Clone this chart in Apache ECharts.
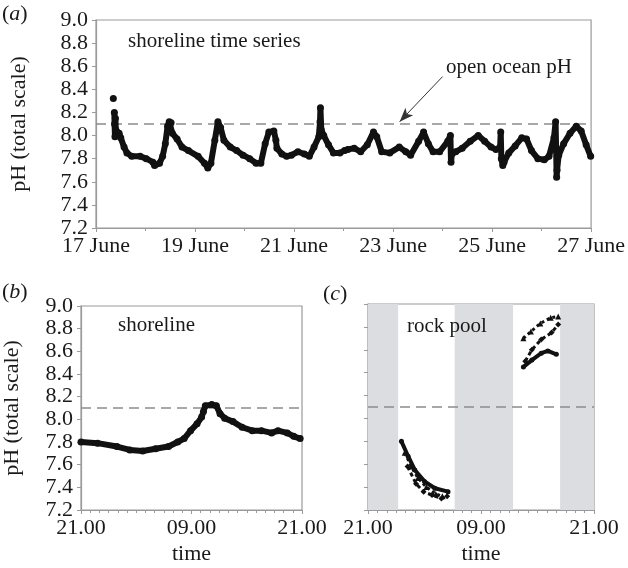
<!DOCTYPE html>
<html>
<head>
<meta charset="utf-8">
<script src="https://cdn.jsdelivr.net/npm/echarts@6/dist/echarts.min.js"></script>
<style>
html,body{margin:0;padding:0;background:#fff;}
#main{width:628px;height:568px;}
</style>
</head>
<body>
<div id="main"></div>
<script>
// ---------- DATA ----------
// Panel (a): hours since 17 June 00:00, pH (null = gap)
var shoreHours = [8.4, 8.5, 8.9, 9.0, 9.2, 9.4, 9.6, 11.2, 12.0, 13.6, 15.0, 17.3, 21.4, 24.4, 27.6, 28.4, 30.8, 32.3, 33.6, 34.7, 35.5, 36.4, 37.0, 39.3, 41.7, 44.8, 49.5, 52.6, 54.2, 55.7, 57.6, 59.1, 60.4, 62.0, 65.1, 68.2, 71.3, 74.5, 77.6, 79.9, 82.0, 83.8, 86.2, 87.2, 87.7, 90.1, 92.4, 94.7, 97.9, 101.0, 103.4, 105.7, 108.0, 108.6, 108.8, 109.2, 110.4, 112.7, 115.1, 118.2, 120.5, 122.1, 125.2, 128.3, 131.5, 134.5, 136.1, 138.5, 142.4, 147.0, 150.2, 152.5, 156.4, 158.8, 161.1, 163.4, 166.6, 170.5, 171.8, 172.1, 172.5, 174.4, 177.5, 181.4, 185.3, 188.4, 191.5, 193.9, 195.9, 196.2, 196.5, 197.2, 197.8, 200.1, 203.2, 206.4, 208.7, 211.1, 214.2, 217.3, 219.6, 222.0, 222.8, 223.3, 223.5, 224.3, 226.7, 229.8, 232.8, 235.2, 237.6, 239.8];
var shorePH    = [8.32, null, 8.20, 8.10, 7.99, 8.15, 8.05, 8.02, 7.98, 7.90, 7.85, 7.82, 7.82, 7.80, 7.77, 7.74, 7.76, 7.82, 7.93, 8.08, 8.12, 8.11, 8.02, 7.97, 7.90, 7.87, 7.82, 7.76, 7.72, 7.76, 7.96, 8.12, 8.07, 7.96, 7.90, 7.87, 7.83, 7.80, 7.76, 7.76, 7.93, 8.03, 8.04, 7.96, 7.89, 7.84, 7.82, 7.83, 7.86, 7.84, 7.82, 7.90, 7.99, 8.12, 8.24, 8.05, 8.00, 7.92, 7.85, 7.85, 7.87, 7.88, 7.89, 7.86, 7.92, 8.03, 7.99, 7.86, 7.85, 7.90, 7.86, 7.83, 7.95, 8.03, 7.93, 7.86, 7.86, 7.95, 8.00, 7.77, 7.84, 7.86, 7.89, 7.95, 8.00, 7.95, 7.90, 7.88, 7.90, 8.03, 7.80, 7.74, 7.77, 7.85, 7.91, 7.98, 7.97, 7.87, 7.80, 7.79, 7.82, 7.98, 8.12, 7.64, 7.70, 7.83, 7.93, 8.02, 8.08, 8.04, 7.92, 7.82];
var dayLabels = ['17 June', '19 June', '21 June', '23 June', '25 June', '27 June'];

// Panel (b): hours since 21.00, pH
var shoreDayHours = [0.0, 1.8, 3.9, 5.3, 6.7, 8.1, 9.5, 10.5, 11.2, 11.9, 12.6, 13.1, 13.3, 13.5, 14.2, 14.7, 15.1, 15.6, 16.5, 17.5, 18.6, 19.6, 20.7, 21.4, 22.4, 23.1, 23.8];
var shoreDayPH    = [7.80, 7.79, 7.76, 7.73, 7.72, 7.74, 7.76, 7.80, 7.83, 7.90, 7.96, 8.02, 8.07, 8.12, 8.13, 8.12, 8.05, 8.01, 7.98, 7.93, 7.90, 7.90, 7.88, 7.90, 7.88, 7.85, 7.83];
var timeLabels = ['21.00', '09.00', '21.00'];

// Panel (c): rock pool, hours since 21.00 (null = gap between night and day runs)
var poolHours1 = [3.55, 4.26, 4.97, 6.0, 7.1, 8.5, null, 16.5, 17.4, 18.4, 19.1, 20.0];
var poolPH1    = [7.80, 7.67, 7.55, 7.45, 7.39, 7.36, null, 8.45, 8.51, 8.57, 8.59, 8.56];
var poolHours2 = [3.9, 4.6, 5.3, 6.2, 7.2, 7.9, null, 16.5, 17.3, 18.3, 19.4, 20.2];
var poolPH2    = [7.70, 7.58, 7.48, 7.40, 7.34, 7.32, null, 8.70, 8.76, 8.83, 8.88, 8.89];
var poolHours3 = [4.2, 5.1, 5.9, 6.8, 7.8, 8.4, null, 16.7, 17.4, 18.4, 19.5, 20.2];
var poolPH3    = [7.58, 7.43, 7.36, 7.33, 7.30, 7.32, null, 8.50, 8.60, 8.69, 8.75, 8.82];
var greyBands = [[0, 3.2], [9.2, 15.4], [20.4, 24]];

var openOceanPH = 8.1;
var yTicksMin = 7.2, yTicksMax = 9.0, yStep = 0.2;

// ---------- CHART ----------
function pairs(xs, ys) {
  return xs.map(function (x, i) { return (ys[i] === null) ? [x === null ? '-' : x, '-'] : [x, ys[i]]; });
}
var FONT = '"Liberation Serif", "DejaVu Serif", serif';
var AX = '#9a9a9a';
var TXT = '#1a1a1a';
var FS = 22;

function yAxisDef(gi, showLabels, name, gap) {
  return {
    type: 'value', gridIndex: gi, min: yTicksMin, max: yTicksMax, interval: yStep,
    axisLine: { show: true, lineStyle: { color: AX, width: 1.2 } },
    axisTick: { show: true, length: 4, lineStyle: { color: AX } },
    splitLine: { show: false },
    axisLabel: { show: showLabels, margin: 8, color: TXT, fontFamily: FONT, fontSize: FS,
      formatter: function (v) { return v.toFixed(1); } },
    name: name, nameLocation: 'middle', nameGap: gap, nameRotate: 90,
    nameTextStyle: { color: TXT, fontFamily: FONT, fontSize: FS }
  };
}
function xAxisDef(gi, max, interval, labels, minorSplit, name) {
  return {
    type: 'value', gridIndex: gi, min: 0, max: max, interval: interval,
    axisLine: { show: true, lineStyle: { color: AX, width: 1.2 } },
    axisTick: { show: true, length: 4, lineStyle: { color: AX } },
    minorTick: { show: true, splitNumber: minorSplit, length: 3, lineStyle: { color: AX } },
    splitLine: { show: false },
    axisLabel: { margin: 7, color: TXT, fontFamily: FONT, fontSize: FS, showMaxLabel: true, showMinLabel: true,
      formatter: function (v) { return labels[Math.round(v / interval)]; } },
    name: name, nameLocation: 'middle', nameGap: 33,
    nameTextStyle: { color: TXT, fontFamily: FONT, fontSize: FS }
  };
}
var dashLine = {
  silent: true, symbol: 'none', label: { show: false },
  lineStyle: { color: '#8c8c8c', type: [10, 6], width: 1.5 },
  data: [{ yAxis: openOceanPH }]
};
function poolSeries(xs, ys, sym, size, lw, ltype) {
  return {
    type: 'line', xAxisIndex: 2, yAxisIndex: 2, data: pairs(xs, ys),
    symbol: sym, symbolSize: size, showSymbol: true, connectNulls: false,
    itemStyle: { color: '#111' }, lineStyle: { color: '#111', width: lw, type: ltype }, z: 5
  };
}
function panelLabel(letter, left, top) {
  return { type: 'text', left: left, top: top, z: 100,
    style: { text: '({i|' + letter + '})', fill: TXT, font: FS + 'px ' + FONT,
      rich: { i: { fontStyle: 'italic', fontFamily: FONT, fontSize: FS, fill: TXT } } } };
}
function note(text, left, top) {
  return { type: 'text', left: left, top: top, z: 100, style: { text: text, fill: TXT, font: (FS - 1) + 'px ' + FONT } };
}

var chart = echarts.init(document.getElementById('main'), null, { renderer: 'canvas' });
chart.setOption({
  animation: false,
  backgroundColor: '#fff',
  grid: [
    { left: 81, top: 20, width: 513, height: 208, show: true, borderColor: AX, borderWidth: 1.2 },
    { left: 73, top: 306, width: 229, height: 204, show: true, borderColor: AX, borderWidth: 1.2 },
    { left: 368, top: 304, width: 226, height: 206, show: true, borderColor: AX, borderWidth: 1.2 }
  ],
  xAxis: [
    xAxisDef(0, 240, 48, dayLabels, 2, ''),
    xAxisDef(1, 24, 12, timeLabels, 12, 'time'),
    xAxisDef(2, 24, 12, timeLabels, 12, 'time')
  ],
  yAxis: [
    yAxisDef(0, true, 'pH (total scale)', 66),
    yAxisDef(1, true, 'pH (total scale)', 58),
    yAxisDef(2, false, '', 0)
  ],
  series: [
    {
      type: 'line', xAxisIndex: 0, yAxisIndex: 0, data: pairs(shoreHours, shorePH),
      symbol: 'circle', symbolSize: 7, showSymbol: true, connectNulls: false,
      itemStyle: { color: '#111' }, lineStyle: { color: '#111', width: 6 }, z: 5,
      markLine: {
        silent: true, symbol: 'none', label: { show: false },
        lineStyle: { color: '#8c8c8c', type: [10, 6], width: 1.5 },
        data: [
          { yAxis: openOceanPH },
          [
            { coord: [168, 8.51], symbol: 'none', lineStyle: { color: '#333', type: 'solid', width: 1 } },
            { coord: [147.2, 8.12], symbol: 'arrow', symbolSize: [8, 14], lineStyle: { color: '#333', type: 'solid', width: 1 } }
          ]
        ]
      }
    },
    {
      type: 'line', xAxisIndex: 1, yAxisIndex: 1, data: pairs(shoreDayHours, shoreDayPH),
      symbol: 'circle', symbolSize: 7, showSymbol: true,
      itemStyle: { color: '#111' }, lineStyle: { color: '#111', width: 6 }, z: 5,
      markLine: dashLine
    },
    {
      type: 'line', xAxisIndex: 2, yAxisIndex: 2, data: [],
      markLine: dashLine,
      markArea: {
        silent: true, itemStyle: { color: '#dcdde0' },
        data: greyBands.map(function (b) { return [{ xAxis: b[0] }, { xAxis: b[1] }]; })
      }
    },
    poolSeries(poolHours1, poolPH1, 'circle', 5, 4, 'solid'),
    poolSeries(poolHours2, poolPH2, 'triangle', 6, 3, [3, 3]),
    poolSeries(poolHours3, poolPH3, 'diamond', 6, 3, [4, 3])
  ],
  graphic: [
    panelLabel('a', 2, 3),
    panelLabel('b', 2, 281),
    panelLabel('c', 323, 283),
    note('shoreline time series', 128, 31),
    note('open ocean pH', 446, 57),
    note('shoreline', 118, 315),
    note('rock pool', 407, 316)
  ]
});
</script>
</body>
</html>
